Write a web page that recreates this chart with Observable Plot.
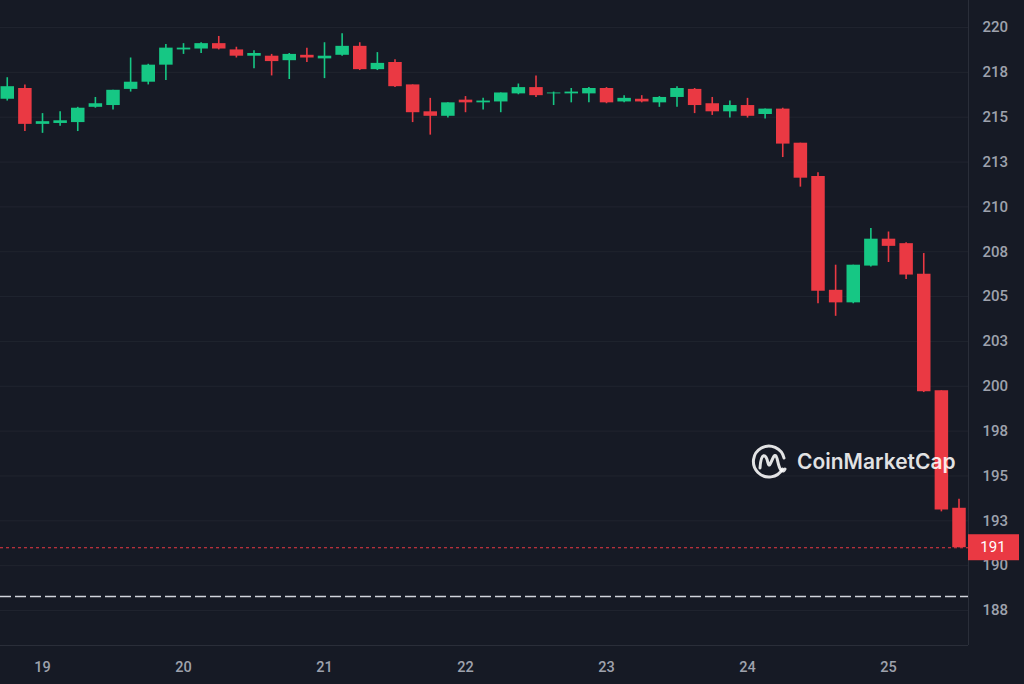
<!DOCTYPE html>
<html>
<head>
<meta charset="utf-8">
<script src="https://cdn.jsdelivr.net/npm/d3@7"></script>
<script src="https://cdn.jsdelivr.net/npm/@observablehq/plot@0.6"></script>
<style>
  html, body { margin: 0; padding: 0; background: #161a25; }
  #chart { width: 1024px; height: 684px; overflow: hidden; }
</style>
</head>
<body>
<div id="chart"></div>
<script>
// 3-hour candles, first one opening 18th 18:00 (UTC)
const firstCandle = "2024-01-18T18:00:00Z";
const candleHours = 3;
const open  = [216.0,216.6,214.6,214.65,214.7,215.55,215.65,216.55,216.95,217.9,218.75,218.8,219.1,218.75,218.4,218.4,218.15,218.45,218.25,218.45,218.95,217.65,218.05,216.8,215.3,215.05,215.95,215.8,215.85,216.3,216.65,216.3,216.3,216.3,216.6,215.85,216.0,215.8,216.1,216.55,215.75,215.3,215.65,215.15,215.45,213.55,211.7,205.35,204.65,206.7,208.2,207.95,206.25,199.75,193.2];
const high  = [217.2,216.8,215.2,215.3,215.55,216.1,216.5,218.3,217.95,219.05,219.1,219.15,219.5,218.9,218.7,218.5,218.55,218.85,219.15,219.65,219.15,218.6,218.2,216.8,216.05,215.8,216.15,216.05,216.35,216.85,217.3,216.4,216.6,216.65,216.65,216.2,216.2,216.15,216.7,216.6,216.1,215.9,216.05,215.45,215.5,213.55,211.9,206.75,206.75,208.8,208.6,208.0,207.4,199.75,193.7];
const low   = [215.9,214.2,214.1,214.5,214.2,215.5,215.4,216.4,216.8,217.05,218.5,218.55,218.75,218.3,217.7,217.3,217.1,218.05,217.15,218.4,217.6,217.6,216.65,214.7,214.0,214.95,215.25,215.4,215.25,216.25,216.1,215.65,215.8,215.8,215.75,215.8,215.8,215.55,215.55,215.2,215.1,214.95,214.95,214.9,212.75,211.1,204.6,203.9,204.6,206.65,206.9,205.95,199.65,193.0,191.0];
const close = [216.7,214.6,214.75,214.8,215.5,215.75,216.5,216.95,217.9,218.85,218.85,219.1,218.8,218.4,218.55,218.1,218.5,218.3,218.4,218.95,217.65,218.0,216.7,215.25,215.05,215.8,215.8,215.9,216.35,216.65,216.2,216.35,216.4,216.6,215.8,216.05,215.85,216.1,216.6,215.65,215.3,215.65,215.05,215.45,213.5,211.6,205.3,204.65,206.75,208.2,207.8,206.2,199.7,193.1,191.0];

const currentPrice = 191.0;
const currentPriceLabel = "191";
const dashedLevel = 188.28;

const yTicks = [220, 217.5, 215, 212.5, 210, 207.5, 205, 202.5, 200, 197.5, 195, 192.5, 190, 187.5];
const yTickLabels = ["220","218","215","213","210","208","205","203","200","198","195","193","190","188"];
const xTickDays = ["2024-01-19","2024-01-20","2024-01-21","2024-01-22","2024-01-23","2024-01-24","2024-01-25"];
const xTickLabels = ["19","20","21","22","23","24","25"];

const watermark = "CoinMarketCap";

// ---- build table ----
const t0 = new Date(firstCandle);
const candles = open.map((o, i) => ({
  t: d3.utcHour.offset(t0, i * candleHours),
  open: o, high: high[i], low: low[i], close: close[i],
  up: close[i] >= o
}));
const xTicks = xTickDays.map(d => new Date(d + "T00:00:00Z"));
const day19 = xTicks[0];
const xDomain = [d3.utcMinute.offset(day19, -429), d3.utcMinute.offset(day19, 9457)];
const yDomain = [185.55, 221.505];

const GREEN = "#16c784", RED = "#ea3943";
const BG = "#161a25", GRID = "#20242f", LINE = "#2a2e39", TXT = "#9ea2ad";

const priceTag = (index, scales, values, dimensions) => {
  const y = scales.y(currentPrice);
  const x0 = dimensions.width - dimensions.marginRight;
  const g = d3.create("svg:g");
  g.append("rect").attr("x", x0).attr("y", y - 13).attr("width", 51).attr("height", 26).attr("fill", RED);
  g.append("text").attr("x", x0 + 25).attr("y", y).attr("dy", "0.35em")
    .attr("text-anchor", "middle").attr("fill", "#ffffff")
    .attr("font-size", 15).attr("font-family", "Roboto").text(currentPriceLabel);
  return g.node();
};

const logo = (index, scales, values, dimensions) => {
  const g = d3.create("svg:g").attr("transform", "translate(769,461)")
    .attr("fill", "none").attr("stroke", "#ffffff").attr("stroke-opacity", 0.88)
    .attr("stroke-width", 3).attr("stroke-linecap", "round").attr("stroke-linejoin", "round");
  g.append("path").attr("d", "M 13.5 8 A 15.5 15.5 0 1 1 15 -3");
  g.append("path").attr("d", "M -9 7 C -8 -9 -3 -8 -1 2 C 1 10 4 -9 7 -5 C 9 -2 9 6 12 9 C 14 11 15 10 16 8");
  g.append("text").attr("x", 28).attr("y", 1).attr("dy", "0.35em")
    .attr("text-anchor", "start")
    .attr("stroke", "none").attr("fill", "#ffffff").attr("fill-opacity", 0.88)
    .attr("font-family", "Inter").attr("font-weight", 600).attr("font-size", 21)
    .text(watermark);
  return g.node();
};

const chart = Plot.plot({
  width: 1024,
  height: 684,
  marginLeft: 0,
  marginRight: 56,
  marginTop: 0,
  marginBottom: 39,
  style: { background: BG, color: TXT, fontFamily: "Roboto", fontSize: "14px", overflow: "visible" },
  x: { type: "utc", domain: xDomain },
  y: { domain: yDomain },
  marks: [
    Plot.ruleY(yTicks, { stroke: GRID, strokeWidth: 1 }),
    Plot.ruleY([dashedLevel], { stroke: "#d1d4dc", strokeWidth: 1.5, strokeDasharray: "11,4" }),
    Plot.ruleY([currentPrice], { stroke: RED, strokeWidth: 1.2, strokeDasharray: "3,3", strokeOpacity: 1 }),
    Plot.ruleX(candles, { x: "t", y1: "low", y2: "high", stroke: d => d.up ? GREEN : RED, strokeWidth: 1.6 }),
    Plot.ruleX(candles, { x: "t", y1: "open", y2: "close", stroke: d => d.up ? GREEN : RED, strokeWidth: 13.5 }),
    Plot.ruleX([xDomain[1]], { stroke: LINE, strokeWidth: 1 }),
    Plot.ruleY([yDomain[0]], { stroke: LINE, strokeWidth: 1 }),
    Plot.axisX({ ticks: xTicks, tickFormat: d => xTickLabels[xTicks.findIndex(t => +t === +d)], tickSize: 0, tickPadding: 16, label: null, fill: TXT, fontSize: 14.5, fontWeight: 500 }),
    Plot.axisY({ anchor: "right", ticks: yTicks, tickFormat: d => yTickLabels[yTicks.indexOf(d)], tickSize: 0, tickPadding: 14, label: null, fill: TXT, fontSize: 15, fontWeight: 500 }),
    priceTag,
    logo
  ]
});
document.getElementById("chart").appendChild(chart);
</script>
</body>
</html>
